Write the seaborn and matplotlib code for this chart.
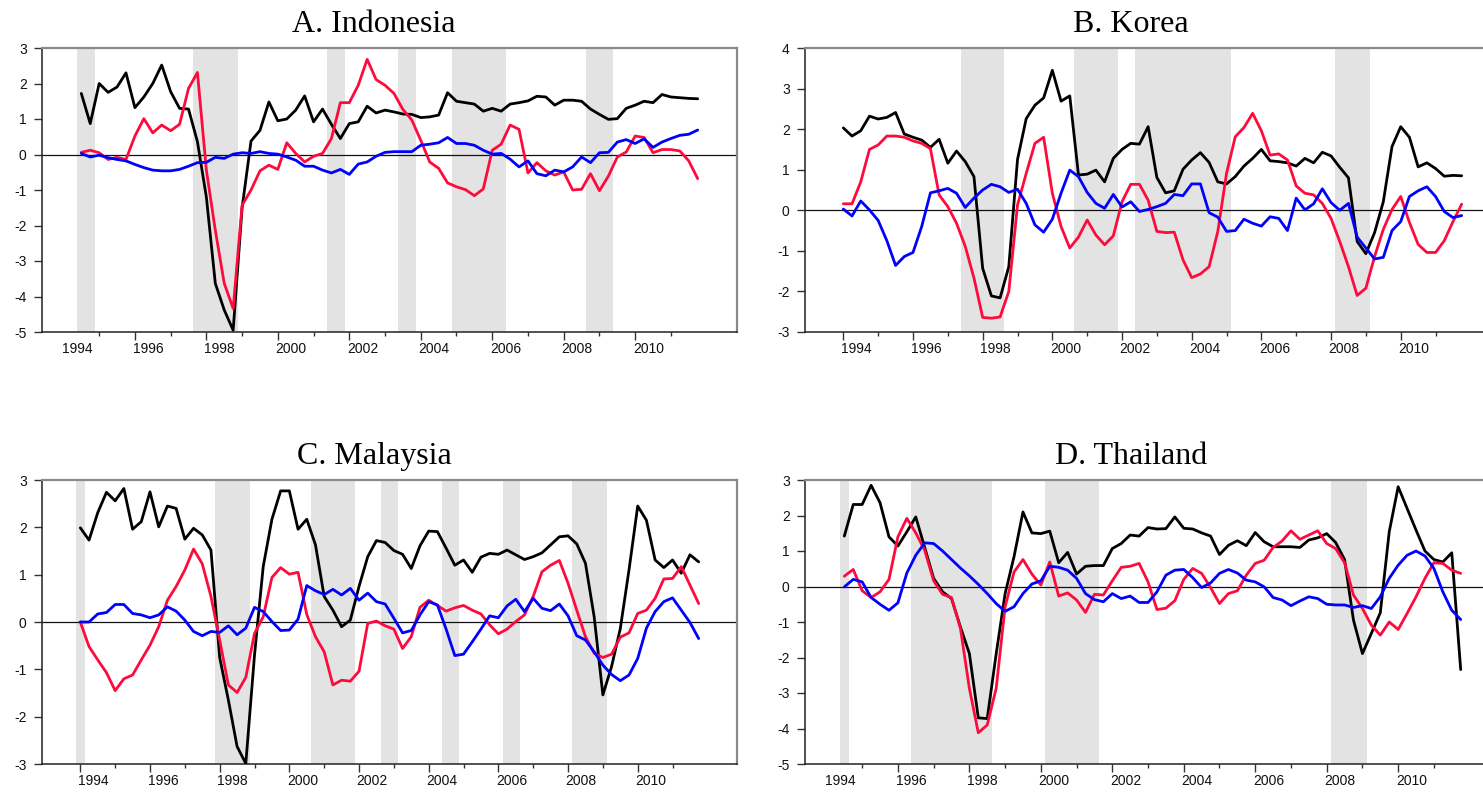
import numpy as np
import pandas as pd
import matplotlib
matplotlib.use("Agg")
import matplotlib.pyplot as plt
import seaborn as sns

# ---------------------------------------------------------------------------
# Quarterly series (three lines per economy)
# ---------------------------------------------------------------------------
idn_start = "1994Q3"
idn_black = [1.72, 0.87, 2.00, 1.75, 1.90, 2.30, 1.32, 1.62, 2.00, 2.52,
             1.77, 1.30, 1.28, 0.36, -1.20, -3.63, -4.38, -4.95, -1.50, 0.38,
             0.68, 1.48, 0.95, 1.00, 1.25, 1.65, 0.92, 1.28, 0.85, 0.45,
             0.87, 0.92, 1.36, 1.17, 1.25, 1.20, 1.14, 1.13, 1.04, 1.06,
             1.11, 1.74, 1.50, 1.46, 1.42, 1.22, 1.30, 1.22, 1.42, 1.46,
             1.51, 1.64, 1.62, 1.39, 1.53, 1.53, 1.50, 1.28, 1.13, 0.99,
             1.01, 1.30, 1.39, 1.50, 1.46, 1.69, 1.62, 1.60, 1.58, 1.57]
idn_red = [0.06, 0.12, 0.05, -0.14, -0.08, -0.14, 0.52, 1.01, 0.61, 0.83,
           0.67, 0.85, 1.86, 2.31, -0.44, -2.13, -3.63, -4.34, -1.43, -1.00,
           -0.46, -0.30, -0.42, 0.33, 0.03, -0.21, -0.05, 0.03, 0.45, 1.46,
           1.46, 1.95, 2.68, 2.11, 1.95, 1.72, 1.27, 0.97, 0.40, -0.21,
           -0.39, -0.80, -0.91, -0.99, -1.16, -0.97, 0.12, 0.29, 0.83, 0.71,
           -0.52, -0.23, -0.46, -0.58, -0.49, -1.00, -0.98, -0.54, -1.02, -0.61,
           -0.07, 0.07, 0.52, 0.48, 0.05, 0.14, 0.14, 0.10, -0.18, -0.68]
idn_blue = [0.03, -0.07, -0.02, -0.09, -0.14, -0.18, -0.28, -0.37, -0.44, -0.46,
            -0.46, -0.42, -0.33, -0.23, -0.22, -0.08, -0.11, 0.01, 0.05, 0.03,
            0.08, 0.03, 0.01, -0.07, -0.16, -0.33, -0.33, -0.44, -0.52, -0.42,
            -0.56, -0.27, -0.21, -0.05, 0.06, 0.08, 0.08, 0.08, 0.26, 0.29,
            0.33, 0.48, 0.31, 0.31, 0.26, 0.12, 0.01, 0.03, -0.13, -0.35,
            -0.18, -0.54, -0.60, -0.44, -0.49, -0.35, -0.07, -0.23, 0.05, 0.06,
            0.35, 0.42, 0.31, 0.44, 0.20, 0.35, 0.45, 0.54, 0.57, 0.69]
idn_shaded = [("1994Q3", "1994Q4"), ("1997Q4", "1998Q4"), ("2001Q3", "2001Q4"),
              ("2003Q3", "2003Q4"), ("2005Q1", "2006Q2"), ("2008Q4", "2009Q2")]

kor_start = "1994Q1"
kor_black = [2.03, 1.83, 1.96, 2.32, 2.25, 2.29, 2.41, 1.88, 1.80, 1.73,
             1.55, 1.75, 1.16, 1.46, 1.20, 0.83, -1.43, -2.11, -2.16, -1.39,
             1.25, 2.26, 2.59, 2.77, 3.45, 2.69, 2.82, 0.87, 0.89, 0.99,
             0.70, 1.28, 1.50, 1.65, 1.63, 2.06, 0.81, 0.43, 0.48, 1.01,
             1.24, 1.42, 1.18, 0.70, 0.65, 0.83, 1.09, 1.28, 1.50, 1.22,
             1.20, 1.17, 1.09, 1.28, 1.17, 1.43, 1.34, 1.06, 0.80, -0.77,
             -1.07, -0.55, 0.21, 1.57, 2.06, 1.80, 1.07, 1.17, 1.03, 0.84,
             0.86, 0.85]
kor_red = [0.16, 0.16, 0.70, 1.50, 1.61, 1.83, 1.83, 1.80, 1.71, 1.65,
           1.52, 0.38, 0.09, -0.32, -0.89, -1.67, -2.64, -2.66, -2.63, -2.00,
           0.13, 0.91, 1.65, 1.80, 0.42, -0.40, -0.93, -0.66, -0.24, -0.61,
           -0.85, -0.63, 0.21, 0.64, 0.64, 0.25, -0.52, -0.55, -0.54, -1.22,
           -1.66, -1.57, -1.39, -0.52, 0.91, 1.81, 2.04, 2.39, 1.96, 1.36,
           1.39, 1.24, 0.60, 0.42, 0.38, 0.17, -0.20, -0.77, -1.39, -2.10,
           -1.92, -1.14, -0.47, 0.02, 0.34, -0.30, -0.84, -1.04, -1.04, -0.75,
           -0.28, 0.15]
kor_blue = [0.03, -0.14, 0.23, 0.01, -0.25, -0.75, -1.36, -1.14, -1.04, -0.40,
            0.43, 0.48, 0.54, 0.42, 0.07, 0.30, 0.50, 0.64, 0.58, 0.44,
            0.52, 0.17, -0.36, -0.54, -0.22, 0.42, 0.99, 0.83, 0.44, 0.17,
            0.05, 0.39, 0.08, 0.21, -0.03, 0.02, 0.09, 0.17, 0.39, 0.36,
            0.65, 0.65, -0.06, -0.17, -0.52, -0.50, -0.22, -0.32, -0.39, -0.16,
            -0.20, -0.50, 0.30, 0.01, 0.16, 0.53, 0.19, 0.00, 0.17, -0.66,
            -0.93, -1.20, -1.16, -0.50, -0.28, 0.34, 0.48, 0.58, 0.34, -0.03,
            -0.18, -0.13]
kor_shaded = [("1997Q3", "1998Q3"), ("2000Q4", "2001Q4"), ("2002Q3", "2005Q1"),
              ("2008Q2", "2009Q1")]

mys_start = "1994Q1"
mys_black = [1.99, 1.73, 2.31, 2.74, 2.56, 2.82, 1.96, 2.12, 2.75, 2.01,
             2.45, 2.40, 1.75, 1.98, 1.84, 1.52, -0.75, -1.65, -2.63, -2.99,
             -0.70, 1.17, 2.17, 2.77, 2.77, 1.96, 2.17, 1.63, 0.54, 0.25,
             -0.10, 0.04, 0.75, 1.38, 1.72, 1.68, 1.51, 1.43, 1.13, 1.61,
             1.92, 1.91, 1.56, 1.20, 1.31, 1.05, 1.37, 1.45, 1.43, 1.52,
             1.42, 1.32, 1.38, 1.46, 1.63, 1.80, 1.82, 1.65, 1.24, 0.11,
             -1.54, -0.94, -0.14, 1.10, 2.45, 2.15, 1.31, 1.15, 1.31, 1.03,
             1.42, 1.27]
mys_red = [0.00, -0.52, -0.80, -1.07, -1.45, -1.20, -1.12, -0.80, -0.49, -0.10,
           0.46, 0.75, 1.10, 1.54, 1.23, 0.54, -0.38, -1.33, -1.49, -1.17,
           -0.24, 0.11, 0.94, 1.15, 1.01, 1.05, 0.16, -0.31, -0.63, -1.33,
           -1.23, -1.25, -1.04, -0.03, 0.02, -0.08, -0.15, -0.56, -0.31, 0.31,
           0.46, 0.35, 0.23, 0.30, 0.35, 0.25, 0.17, -0.06, -0.25, -0.15,
           0.01, 0.15, 0.54, 1.06, 1.20, 1.30, 0.82, 0.25, -0.31, -0.66,
           -0.75, -0.68, -0.32, -0.23, 0.18, 0.25, 0.50, 0.91, 0.92, 1.17,
           0.78, 0.39]
mys_blue = [0.00, 0.00, 0.17, 0.20, 0.37, 0.37, 0.18, 0.15, 0.09, 0.15,
            0.32, 0.23, 0.04, -0.20, -0.29, -0.20, -0.22, -0.08, -0.27, -0.13,
            0.31, 0.22, 0.01, -0.18, -0.17, 0.06, 0.77, 0.66, 0.58, 0.69,
            0.57, 0.71, 0.46, 0.61, 0.43, 0.38, 0.08, -0.23, -0.18, 0.15,
            0.43, 0.36, -0.15, -0.71, -0.68, -0.42, -0.15, 0.13, 0.09, 0.34,
            0.48, 0.22, 0.50, 0.29, 0.24, 0.38, 0.13, -0.29, -0.38, -0.63,
            -0.91, -1.11, -1.24, -1.12, -0.77, -0.13, 0.22, 0.43, 0.51, 0.25,
            -0.01, -0.35]
mys_shaded = [("1994Q1", "1994Q1"), ("1998Q1", "1998Q4"), ("2000Q4", "2001Q4"),
              ("2002Q4", "2003Q1"), ("2004Q3", "2004Q4"), ("2006Q2", "2006Q3"),
              ("2008Q2", "2009Q1")]

tha_start = "1994Q3"
tha_black = [1.42, 2.31, 2.31, 2.85, 2.36, 1.40, 1.14, 1.54, 1.96, 1.10,
             0.23, -0.15, -0.34, -1.14, -1.89, -3.70, -3.72, -1.90, -0.20, 0.84,
             2.10, 1.51, 1.49, 1.56, 0.67, 0.96, 0.35, 0.57, 0.59, 0.59,
             1.07, 1.21, 1.45, 1.42, 1.66, 1.62, 1.63, 1.96, 1.64, 1.62,
             1.51, 1.42, 0.90, 1.16, 1.29, 1.15, 1.52, 1.26, 1.12, 1.12,
             1.12, 1.10, 1.31, 1.37, 1.49, 1.24, 0.76, -0.95, -1.89, -1.32,
             -0.74, 1.54, 2.81, 2.20, 1.59, 1.00, 0.76, 0.69, 0.95, -2.34]
tha_red = [0.29, 0.48, -0.12, -0.31, -0.15, 0.20, 1.40, 1.92, 1.51, 1.02,
           0.16, -0.22, -0.31, -1.18, -2.87, -4.12, -3.90, -2.87, -0.57, 0.41,
           0.76, 0.35, 0.04, 0.69, -0.27, -0.18, -0.38, -0.73, -0.22, -0.24,
           0.16, 0.54, 0.57, 0.65, 0.13, -0.65, -0.61, -0.40, 0.20, 0.51,
           0.37, -0.03, -0.48, -0.20, -0.12, 0.32, 0.65, 0.74, 1.10, 1.28,
           1.57, 1.33, 1.45, 1.57, 1.21, 1.07, 0.67, -0.24, -0.62, -1.09,
           -1.37, -1.00, -1.21, -0.76, -0.29, 0.23, 0.67, 0.65, 0.46, 0.37]
tha_blue = [-0.01, 0.20, 0.13, -0.31, -0.50, -0.67, -0.46, 0.38, 0.88, 1.23,
            1.21, 1.00, 0.76, 0.52, 0.30, 0.06, -0.20, -0.48, -0.70, -0.57,
            -0.20, 0.07, 0.16, 0.57, 0.54, 0.46, 0.23, -0.20, -0.37, -0.43,
            -0.20, -0.34, -0.27, -0.45, -0.45, -0.15, 0.32, 0.46, 0.48, 0.25,
            -0.03, 0.10, 0.37, 0.48, 0.38, 0.18, 0.13, -0.01, -0.31, -0.38,
            -0.54, -0.41, -0.29, -0.34, -0.50, -0.52, -0.52, -0.59, -0.54, -0.62,
            -0.29, 0.23, 0.60, 0.88, 1.00, 0.86, 0.51, -0.15, -0.67, -0.93]
tha_shaded = [("1994Q3", "1994Q3"), ("1996Q3", "1998Q3"), ("2000Q2", "2001Q3"),
              ("2008Q2", "2009Q1")]

titles = ["A. Indonesia", "B. Korea", "C. Malaysia", "D. Thailand"]
y_ranges = [(-5, 3), (-3, 4), (-3, 3), (-5, 3)]
series_names = ["black", "red", "blue"]
line_colors = {"black": "#000000", "red": "#ff0a3c", "blue": "#0000ff"}


def quarter_pos(q):
    """Quarter label like '1994Q3' -> fractional year (start of quarter)."""
    year, qtr = q.split("Q")
    return int(year) + (int(qtr) - 1) / 4.0


def long_frame(start, black, red, blue):
    x0 = quarter_pos(start)
    frames = []
    for name, vals in zip(series_names, (black, red, blue)):
        dates = x0 + 0.25 * np.arange(len(vals))
        frames.append(pd.DataFrame({"date": dates, "value": vals, "series": name}))
    return pd.concat(frames, ignore_index=True)


panels = [
    long_frame(idn_start, idn_black, idn_red, idn_blue),
    long_frame(kor_start, kor_black, kor_red, kor_blue),
    long_frame(mys_start, mys_black, mys_red, mys_blue),
    long_frame(tha_start, tha_black, tha_red, tha_blue),
]
shading = [idn_shaded, kor_shaded, mys_shaded, tha_shaded]

# ---------------------------------------------------------------------------
# Figure
# ---------------------------------------------------------------------------
sns.set_style("white")
plt.rcParams["font.family"] = ["Liberation Sans", "DejaVu Sans"]
plt.rcParams["axes.unicode_minus"] = False

W, H = 1483, 792
fig = plt.figure(figsize=(W / 100, H / 100), dpi=100)

ax_w, ax_h = 695, 284
ax_left = [42, 805, 42, 805]
ax_top = [48, 48, 480, 480]
title_x = [374, 1131, 374, 1131]
title_base = [32, 32, 464, 464]

for k in range(4):
    ax = fig.add_axes([ax_left[k] / W, 1 - (ax_top[k] + ax_h) / H, ax_w / W, ax_h / H])
    df = panels[k]
    first, last = df["date"].min(), df["date"].max()

    for s, e in shading[k]:
        ax.axvspan(quarter_pos(s) - 0.125, quarter_pos(e) + 0.125,
                   color="#e3e3e3", lw=0, zorder=0)
    ax.axhline(0, color="#111111", lw=0.9, zorder=1)

    sns.lineplot(data=df, x="date", y="value", hue="series",
                 hue_order=series_names, palette=line_colors,
                 linewidth=2.0, legend=False, ax=ax, zorder=3)

    ax.set_xlim(first - 1.1, last + 1.1)
    lo, hi = y_ranges[k]
    ax.set_ylim(lo, hi)
    ax.set_xlabel("")
    ax.set_ylabel("")

    # y axis
    ax.set_yticks(np.arange(lo, hi + 1))
    ax.tick_params(axis="y", which="major", direction="out", length=6,
                   width=1, color="#333333", labelsize=10, pad=5,
                   labelcolor="#111111", left=True)

    # year ticks: long on even years, short on odd ones
    years = np.arange(int(np.ceil(first)), int(np.floor(last)) + 1)
    even = [y for y in years if y % 2 == 0]
    odd = [y for y in years if y % 2 == 1]
    ax.set_xticks(even)
    ax.set_xticklabels([])
    ax.set_xticks(odd, minor=True)
    ax.tick_params(axis="x", which="major", direction="out", length=6,
                   width=1, color="#333333", bottom=True)
    ax.tick_params(axis="x", which="minor", direction="out", length=3,
                   width=1, color="#333333", bottom=True)

    # year labels centred on the quarters of each labelled year
    label_years = list(range(1994, 2011, 2))
    sec = ax.secondary_xaxis("bottom")
    sec.set_xticks([y + 0.375 for y in label_years])
    sec.set_xticklabels([str(y) for y in label_years])
    sec.tick_params(axis="x", length=0, pad=7.5, labelsize=10,
                    labelcolor="#111111")
    sec.spines["bottom"].set_visible(False)

    for side in ("left", "bottom"):
        ax.spines[side].set_color("#222222")
        ax.spines[side].set_linewidth(1.1)
    for side in ("top", "right"):
        ax.spines[side].set_color("#8a8a8a")
        ax.spines[side].set_linewidth(1.6)
        ax.spines[side].set_visible(True)

    fig.text(title_x[k] / W, 1 - title_base[k] / H, titles[k],
             ha="center", va="baseline", fontsize=23,
             family=["Liberation Serif", "DejaVu Serif"], color="#000000")

fig.savefig("out.png", dpi=100)
